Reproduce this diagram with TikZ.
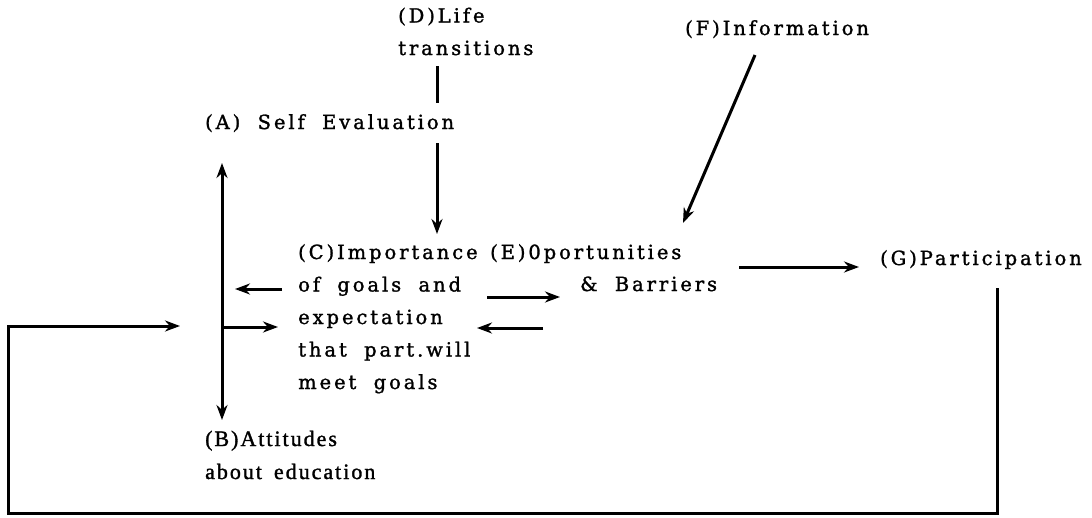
\documentclass[tikz,border=0pt]{standalone}
\usepackage{fontspec}
\usetikzlibrary{arrows.meta}
\newfontfamily\lblfont{DejaVu Serif}[LetterSpace=15,FakeBold=1.4,WordSpace=1.9]
\newfontfamily\attfont{Liberation Serif}[LetterSpace=9,FakeBold=1.4,WordSpace=1.6]
\begin{document}
\begin{tikzpicture}[x=1pt,y=-1pt,
  % multi-line labels are placed by the baseline of their last line
  lbl/.style={anchor=base west,inner sep=0pt,align=left,
    font={\lblfont\fontsize{19.5}{32.5}\selectfont}},
  attlbl/.style={anchor=base west,inner sep=0pt,align=left,
    font={\attfont\fontsize{22}{33}\selectfont}},
  conn/.style={line width=3pt},
  tip/.tip={Stealth[length=15pt,width=11pt]},
  arr/.style={conn,-tip},
  dbl/.style={conn,tip-tip}]
\useasboundingbox (0,0) rectangle (1092,517);

% connector from (D) runs behind the (A) label, so draw it first
\coordinate (dtop) at (437,66);
\coordinate (dtip) at (437,234);
\draw[arr] (dtop) -- (dtip);

% labels
\node[lbl] (D) at (398,55) {(D)Life\\transitions};
\node[lbl,fill=white,inner xsep=2pt,inner ysep=11pt] (A) at (203,129) {(A) Self Evaluation};
\node[lbl] (F) at (685,35) {(F)Information};
\node[lbl] (C) at (298,389) {(C)Importance\\of goals and\\expectation\\that part.will\\meet goals};
\node[lbl] (E) at (490,259) {(E)0portunities};
\node[lbl] (E2) at (580,291) {\& Barriers};
\node[lbl] (G) at (880,265) {(G)Participation};
\node[attlbl] (B) at (205,479) {(B)Attitudes\\about education};

% (A) <-> (B)
\coordinate (abtop) at (222,163);
\coordinate (abbot) at (222,420);
\draw[dbl] (abtop) -- (abbot);

% between the A-B axis and (C)
\coordinate (ca1) at (282,289);
\coordinate (ca2) at (235,289);
\draw[arr] (ca1) -- (ca2);
\coordinate (ac1) at (222,327);
\coordinate (ac2) at (278,327);
\draw[arr] (ac1) -- (ac2);

% between (C) and (E)
\coordinate (ce1) at (487,297);
\coordinate (ce2) at (560,297);
\draw[arr] (ce1) -- (ce2);
\coordinate (ec1) at (543,328);
\coordinate (ec2) at (477,328);
\draw[arr] (ec1) -- (ec2);

% (F) -> (E)
\coordinate (fe1) at (755,55);
\coordinate (fe2) at (683,223);
\draw[arr] (fe1) -- (fe2);

% (E) -> (G)
\coordinate (eg1) at (739,267);
\coordinate (eg2) at (859,267);
\draw[arr] (eg1) -- (eg2);

% feedback loop from (G) back to the A-B axis
\coordinate (g1) at (997,288);
\coordinate (lp1) at (997,513);
\coordinate (lp2) at (8,513);
\coordinate (lp3) at (8,326);
\coordinate (lp4) at (180,326);
\draw[arr,line join=miter] (g1) -- (lp1) -- (lp2) -- (lp3) -- (lp4);
\end{tikzpicture}
\end{document}
